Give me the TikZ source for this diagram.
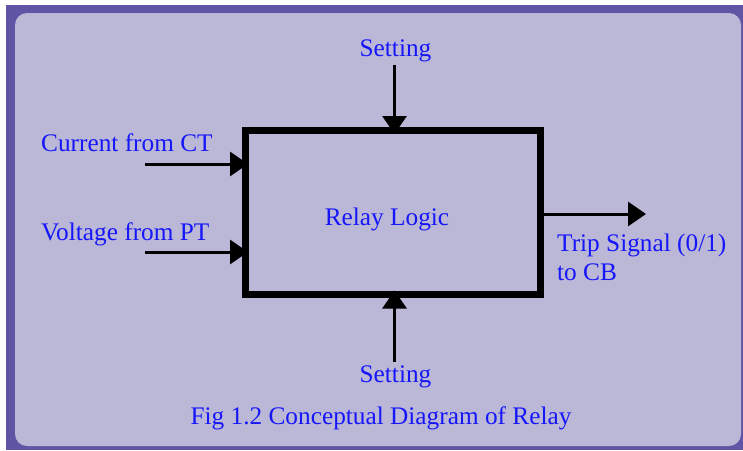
\documentclass[tikz,border=0pt]{standalone}
\usepackage{fontspec}
\setmainfont{Liberation Serif}
\usetikzlibrary{arrows.meta}
\definecolor{framepurple}{RGB}{96,84,165}
\definecolor{panelpurple}{RGB}{187,183,214}
\definecolor{textblue}{RGB}{22,22,250}
\begin{document}
\begin{tikzpicture}[x=1pt,y=-1pt,
  lbl/.style={inner sep=0pt,text=textblue,font=\fontsize{25.3}{30}\selectfont},
  arr/.style={line width=3pt,-{Triangle[length=18pt,width=24pt]}},
  logicbox/.style={draw=black,line width=7pt,minimum width=294.5pt,minimum height=163.5pt,inner sep=0pt}]
\useasboundingbox (0,0) rectangle (743,450);
\fill[white] (0,0) rectangle (743,450);
\fill[framepurple] (6,5) rectangle (743,450);
\fill[panelpurple,rounded corners=12pt] (15,13) rectangle (741,446);
% box
\node[logicbox,lbl,text=textblue] (box) at (392.75,212.25) {};
\node[lbl,anchor=base] (logic) at (387,225) {Relay Logic};
% labels
\node[lbl,anchor=base] (settop) at (395.5,56) {Setting};
\node[lbl,anchor=base] (setbot) at (395.5,382) {Setting};
\node[lbl,anchor=base west] (ct) at (41,151) {Current from CT};
\node[lbl,anchor=base west] (pt) at (41,240) {Voltage from PT};
\node[lbl,anchor=base west] (trip) at (557,251) {Trip Signal (0/1)};
\node[lbl,anchor=base west] (cb) at (557,280) {to CB};
\node[lbl,anchor=base] (cap) at (381,424) {Fig 1.2 Conceptual Diagram of Relay};
% connector ends
\coordinate (ctin) at (145,164);
\coordinate (ptin) at (145,252);
\coordinate (settopin) at (394.5,65);
\coordinate (setbotin) at (394.5,362);
\coordinate (tripout) at (646,214);
% connectors
\draw[arr] (ctin) -- ([xshift=6pt]box.west |- ctin);
\draw[arr] (ptin) -- ([xshift=6pt]box.west |- ptin);
\draw[arr] (settopin) -- ([yshift=-7pt]box.north -| settopin);
\draw[arr] (setbotin) -- ([yshift=7pt]box.south -| setbotin);
\draw[arr] (box.east |- tripout) -- (tripout);
\end{tikzpicture}
\end{document}
